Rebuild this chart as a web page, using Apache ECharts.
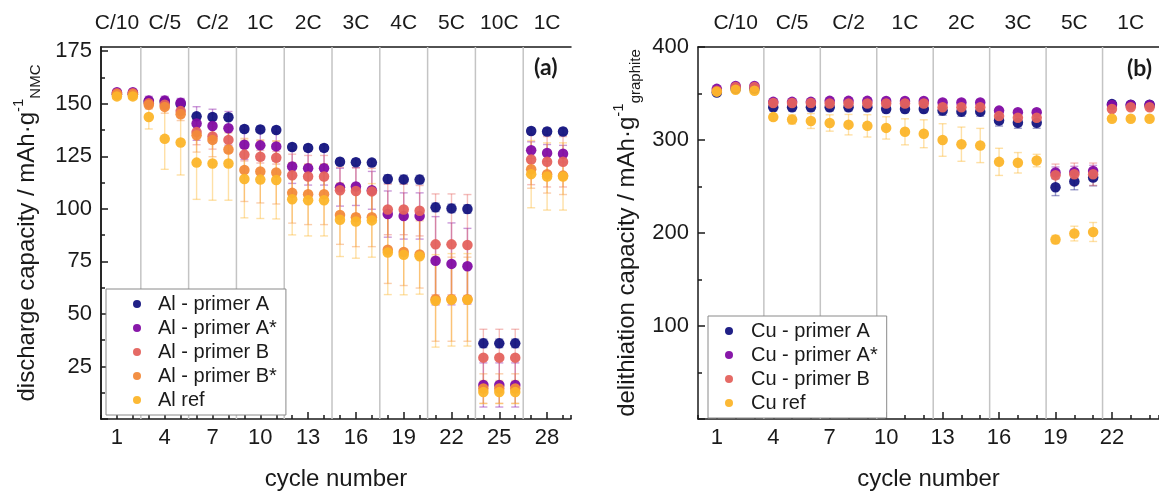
<!DOCTYPE html>
<html>
<head>
<meta charset="utf-8">
<script src="https://cdn.jsdelivr.net/npm/echarts@6/dist/echarts.min.js"></script>
<style>
html, body { margin: 0; padding: 0; overflow: hidden; background: #fff; }
#chart { width: 1159px; height: 496px; }
</style>
</head>
<body>
<div id="chart"></div>
<script>
// ---------- (a) NMC cathode on Al current collectors ----------
const alCycles = [1,2,3,4,5,6,7,8,9,10,11,12,13,14,15,16,17,18,19,20,21,22,23,24,25,26,27,28,29];
const alRateLabels = ['C/10','C/5','C/2','1C','2C','3C','4C','5C','10C','1C'];
const alRatePositions = [1,4,7,10,13,16,19,22,25,28];
const alRateBounds = [2.5,5.5,8.5,11.5,14.5,17.5,20.5,23.5,26.5];
const alTickLabels = [1,4,7,10,13,16,19,22,25,28];
const alNames = ['Al - primer A','Al - primer A*','Al - primer B','Al - primer B*','Al ref'];

const alPrimerA  = [154.5,154.5,151,151,150, 144,143.7,143.6, 138,137.8,137.5, 129.4,129,129, 122.4,122.2,122, 114.2,114,113.9, 100.7,100.2,99.9, 36,36,36, 137,136.8,136.8];
const alPrimerAs = [155.5,155.5,151.5,151.5,150.5, 140.6,139.4,138.3, 130.5,130.2,129.7, 120.1,119.3,119.3, 110.3,110.6,108.8, 97.5,96.6,96.6, 75.3,73.8,72.7, 16.2,16.2,16.2, 127.9,126.6,126.2];
const alPrimerB  = [155,155,150.2,149.5,146.5, 136.5,134.4,132.8, 125.8,124.8,124.3, 116,115.4,115.4, 108.8,108.5,108.3, 99.7,99.7,99.1, 83.1,83.1,82.8, 29.2,29.2,29.2, 123.5,122.4,122.4];
const alPrimerBs = [154.5,154.5,149.5,148.5,145, 135,132.8,128.2, 118.5,117.8,117.3, 107.6,106.9,106.9, 97.1,96,96, 80.5,79.5,78.3, 57,57,57, 14.5,14.5,14.5, 118.8,116.5,115.8];
const alRef      = [153.5,153.5,143.7,133.3,131.6, 122,121.6,121.6, 114.2,113.9,113.7, 104.6,104.1,104.1, 94.8,94,94.5, 79.2,78.1,77.4, 56.2,56.7,56.7, 12.8,12.8,12.8, 116.5,115.4,115.4];

const alErrA  = [1,1,1.5,1.5,1.5, 1.5,1.5,1.5, 1.5,1.5,1.5, 1.5,1.5,1.5, 1.5,1.5,1.5, 2,2,2, 2,2,2, 2,2,2, 1.5,1.5,1.5];
const alErrAs = [1,1,2,2,2, 8,8,8, 7,7,7, 8,8,8, 9,9,9, 11,11,11, 21,19.5,18, 10.5,10.5,10.5, 4,4,4];
const alErrB  = [1.5,1.5,2,2,3, 6,6,6, 3,3,3, 10,10,10, 11,11,11, 12,12,12, 24,24,24, 13.5,13.5,13.5, 12,12,12];
const alErrBs = [1.5,1.5,2,3,3, 8,8,8, 15,15,15, 14.4,14.4,14.4, 14,14,14, 16,16,16, 20,20,20, 7,7,7, 9,9,9];
const alErrRef= [1.5,1.5,5.7,14.5,15.5, 17.5,17.5,17.5, 18.5,18.5,18.5, 17,17,17, 17.5,17.5,17.5, 20,19,18, 22,22,22, 5.5,5.5,5.5, 16,16,16];

// ---------- (b) graphite anode on Cu current collectors ----------
const cuCycles = [1,2,3,4,5,6,7,8,9,10,11,12,13,14,15,16,17,18,19,20,21,22,23,24];
const cuRateLabels = ['C/10','C/5','C/2','1C','2C','3C','5C','1C'];
const cuRatePositions = [2,5,8,11,14,17,20,23];
const cuRateBounds = [3.5,6.5,9.5,12.5,15.5,18.5,21.5];
const cuTickLabels = [1,4,7,10,13,16,19,22];
const cuNames = ['Cu - primer A','Cu - primer A*','Cu - primer B','Cu ref'];

const cuPrimerA  = [351,355,355, 335.2,335.2,335.2, 335.2,335.2,335.2, 333.4,333.4,333.4, 331.6,330.5,330.5, 321,318.6,318.6, 249.2,255.5,259.7, 338.6,338,338];
const cuPrimerAs = [355,358,358, 341,341,341, 342.1,342.1,342.1, 342,342,342, 340.4,340.4,340.4, 331.6,329.8,329.8, 265,265.7,266.7, 337.6,337.6,337.6];
const cuPrimerB  = [353,357,357, 339.7,339.7,339.7, 339.3,339.3,339.3, 339.3,339.3,339.3, 335.2,335.2,335.2, 325.7,323.9,323.9, 262.1,263.2,263.2, 333.4,335.2,335.2];
const cuRef      = [352,354,353, 324.6,322.1,320.4, 318.3,316.5,315.2, 313,308.8,306.7, 300,295.5,294.1, 276.5,275.5,277.9, 193,199.4,201.1, 322.8,322.8,322.8];

const cuErrA  = [2,2,2, 4,4,4, 4,4,4, 4,4,4, 5,5,5, 6,6,6, 9,9,9, 3,3,3];
const cuErrAs = [2,2,2, 2,2,2, 2,2,2, 2,2,2, 3,3,3, 3,3,3, 6,6,6, 2,2,2];
const cuErrB  = [2,2,2, 3,3,3, 3,3,3, 3,3,3, 3,3,3, 4,4,4, 12,12,12, 3,3,3];
const cuErrRef= [3,2,2, 3,4.9,8, 8.8,11,12, 12,14,15, 17.5,18.4,18.4, 14.6,11,6.7, 4.4,7.9,10.2, 2,2,2];

// ---------- styling ----------
const FONT = '"Liberation Sans", Arial, sans-serif';
const INK = '#1a1a1a';
const COLORS = ['#14147f', '#820ca4', '#e4625d', '#f28a3a', '#fcb52a'];
const SEP_COLOR = '#c4c4c4';

function scatter(name, color, xi, yi, cycles, vals, z) {
  return {
    name, type: 'scatter', xAxisIndex: xi, yAxisIndex: yi,
    symbol: 'circle', symbolSize: 10.5, z,
    itemStyle: { color, opacity: 0.95 },
    data: vals.map((v, i) => [cycles[i], v])
  };
}

function errorBars(color, xi, yi, cycles, vals, errs) {
  return {
    type: 'custom', xAxisIndex: xi, yAxisIndex: yi, silent: true, z: 2,
    data: vals.map((v, i) => [cycles[i], v - errs[i], v + errs[i]]),
    renderItem: (params, api) => {
      const x = api.value(0);
      const lo = api.coord([x, api.value(1)]);
      const hi = api.coord([x, api.value(2)]);
      const w = 4;
      const st = { stroke: color, lineWidth: 1.4, opacity: 0.42 };
      return {
        type: 'group',
        children: [
          { type: 'line', shape: { x1: lo[0], y1: lo[1], x2: hi[0], y2: hi[1] }, style: st },
          { type: 'line', shape: { x1: lo[0] - w, y1: lo[1], x2: lo[0] + w, y2: lo[1] }, style: st },
          { type: 'line', shape: { x1: hi[0] - w, y1: hi[1], x2: hi[0] + w, y2: hi[1] }, style: st }
        ]
      };
    }
  };
}

// vertical dividers between C-rate steps
function separators(xi, yi, bounds, yMin, yMax) {
  return {
    type: 'custom', xAxisIndex: xi, yAxisIndex: yi, silent: true, z: 1,
    data: bounds.map(b => [b]),
    renderItem: (params, api) => {
      const p0 = api.coord([api.value(0), yMin]);
      const p1 = api.coord([api.value(0), yMax]);
      return { type: 'line', shape: { x1: p0[0], y1: p0[1], x2: p1[0], y2: p1[1] },
               style: { stroke: SEP_COLOR, lineWidth: 1.5 } };
    }
  };
}

const axisLineStyle = { color: INK, width: 1.5 };
const tickLabelStyle = { fontFamily: FONT, fontSize: 22, color: INK };

function bottomAxes(grid, xMax, tickLabels) {
  return [
    { // major ticks and labels
      gridIndex: grid, type: 'value', position: 'bottom', min: 0, max: xMax,
      axisLine: { show: true, lineStyle: axisLineStyle },
      axisTick: { show: true, inside: true, length: 7, lineStyle: axisLineStyle, customValues: tickLabels },
      axisLabel: { show: true, margin: 8, customValues: tickLabels, hideOverlap: false, ...tickLabelStyle },
      splitLine: { show: false },
      name: 'cycle number', nameLocation: 'middle', nameGap: 48,
      nameTextStyle: { fontFamily: FONT, fontSize: 24, color: INK }
    },
    { // one minor tick per cycle
      gridIndex: grid, type: 'value', position: 'bottom', min: 0, max: xMax, interval: 1,
      axisLine: { show: false },
      axisTick: { show: true, inside: true, length: 4, lineStyle: axisLineStyle },
      axisLabel: { show: false }, splitLine: { show: false }
    }
  ];
}

// top frame carrying the C-rate labels
function topAxis(grid, xMax, positions, labels) {
  return {
    gridIndex: grid, type: 'value', position: 'top', min: 0, max: xMax,
    axisLine: { show: true, lineStyle: axisLineStyle },
    axisTick: { show: false },
    axisLabel: {
      show: true, margin: 13, customValues: positions, ...tickLabelStyle, fontSize: 21,
      hideOverlap: false, showMinLabel: true, showMaxLabel: true,
      formatter: v => {
        const k = positions.findIndex(c => Math.abs(c - v) < 1e-6);
        return k >= 0 ? labels[k] : '';
      }
    },
    splitLine: { show: false }
  };
}

function yTitle(main, sub) {
  return `{m|${main}}{sup|-1}{sub|${sub}}`;
}
const yTitleRich = {
  m:   { fontFamily: FONT, fontSize: 24, color: INK, lineHeight: 32 },
  sup: { fontFamily: FONT, fontSize: 15, color: INK, lineHeight: 15, verticalAlign: 'top' },
  sub: { fontFamily: FONT, fontSize: 15, color: INK, lineHeight: 15, verticalAlign: 'bottom' }
};

const AL_XMAX = 29.5, AL_YMAX = 177;
const CU_XMAX = 24.5, CU_YMAX = 400;

const option = {
  animation: false,
  backgroundColor: '#ffffff',
  grid: [
    { left: 101, top: 47, width: 470, height: 380 },
    { left: 698, top: 47, width: 471, height: 380 }
  ],
  xAxis: [
    ...bottomAxes(0, AL_XMAX, alTickLabels),
    topAxis(0, AL_XMAX, alRatePositions, alRateLabels),
    ...bottomAxes(1, CU_XMAX, cuTickLabels),
    topAxis(1, CU_XMAX, cuRatePositions, cuRateLabels)
  ],
  yAxis: [
    {
      gridIndex: 0, type: 'value', min: 0, max: AL_YMAX, interval: 25,
      axisLine: { show: true, lineStyle: axisLineStyle },
      axisTick: { show: true, inside: true, length: 7, lineStyle: axisLineStyle,
                  customValues: [0, 25, 50, 75, 100, 125, 150, 175] },
      minorTick: { show: true, splitNumber: 2, length: 4, lineStyle: axisLineStyle },
      axisLabel: { margin: 9, ...tickLabelStyle,
                   formatter: v => (v > 0 && v % 25 === 0 ? String(v) : '') },
      splitLine: { show: false },
      name: yTitle('discharge capacity / mAh·g', 'NMC'),
      nameLocation: 'middle', nameRotate: 90, nameGap: 58,
      nameTextStyle: { rich: yTitleRich }
    },
    { // right frame of panel (a)
      gridIndex: 0, type: 'value', position: 'right', min: 0, max: AL_YMAX,
      axisLine: { show: true, lineStyle: axisLineStyle },
      axisTick: { show: false }, axisLabel: { show: false }, splitLine: { show: false }
    },
    {
      gridIndex: 1, type: 'value', min: 0, max: CU_YMAX, interval: 100,
      axisLine: { show: true, lineStyle: axisLineStyle },
      axisTick: { show: true, inside: true, length: 7, lineStyle: axisLineStyle },
      minorTick: { show: true, splitNumber: 2, length: 4, lineStyle: axisLineStyle },
      axisLabel: { margin: 9, ...tickLabelStyle,
                   formatter: v => (v > 0 ? String(v) : '') },
      splitLine: { show: false },
      name: yTitle('delithiation capacity / mAh·g', 'graphite'),
      nameLocation: 'middle', nameRotate: 90, nameGap: 55,
      nameTextStyle: { rich: yTitleRich }
    }
  ],
  legend: [
    {
      orient: 'vertical', left: 106, top: 289, padding: [5, 9, 5, 27],
      borderColor: '#8a8a8a', borderWidth: 1, backgroundColor: '#fff',
      icon: 'circle', itemWidth: 8, itemHeight: 8, itemGap: 4,
      textStyle: { fontFamily: FONT, fontSize: 20, lineHeight: 20, color: INK, padding: [0, 0, 0, 12] },
      data: alNames
    },
    {
      orient: 'vertical', left: 708, top: 316, padding: [5, 9, 5, 17],
      borderColor: '#8a8a8a', borderWidth: 1, backgroundColor: '#fff',
      icon: 'circle', itemWidth: 8, itemHeight: 8, itemGap: 4,
      textStyle: { fontFamily: FONT, fontSize: 20, lineHeight: 20, color: INK, padding: [0, 0, 0, 13] },
      data: cuNames
    }
  ],
  graphic: [
    { type: 'text', left: 534, top: 56, z: 100,
      style: { text: '(a)', fontFamily: 'Lato, "Open Sans", sans-serif', fontWeight: 'bold', fontSize: 23, fill: INK } },
    { type: 'text', left: 1127, top: 57, z: 100,
      style: { text: '(b)', fontFamily: 'Lato, "Open Sans", sans-serif', fontWeight: 'bold', fontSize: 23, fill: INK } }
  ],
  series: []
};

// panel (a)
const alVals = [alPrimerA, alPrimerAs, alPrimerB, alPrimerBs, alRef];
const alErrs = [alErrA, alErrAs, alErrB, alErrBs, alErrRef];
option.series.push(separators(0, 0, alRateBounds, 0, AL_YMAX));
alVals.forEach((vals, k) => option.series.push(errorBars(COLORS[k], 0, 0, alCycles, vals, alErrs[k])));
alVals.forEach((vals, k) => option.series.push(scatter(alNames[k], COLORS[k], 0, 0, alCycles, vals, 3 + k)));

// panel (b)
const cuColors = [COLORS[0], COLORS[1], COLORS[2], COLORS[4]];
const cuVals = [cuPrimerA, cuPrimerAs, cuPrimerB, cuRef];
const cuErrs = [cuErrA, cuErrAs, cuErrB, cuErrRef];
option.series.push(separators(3, 2, cuRateBounds, 0, CU_YMAX));
cuVals.forEach((vals, k) => option.series.push(errorBars(cuColors[k], 3, 2, cuCycles, vals, cuErrs[k])));
cuVals.forEach((vals, k) => option.series.push(scatter(cuNames[k], cuColors[k], 3, 2, cuCycles, vals, 3 + k)));

const chart = echarts.init(document.getElementById('chart'), null, { renderer: 'canvas' });
chart.setOption(option);
</script>
</body>
</html>
